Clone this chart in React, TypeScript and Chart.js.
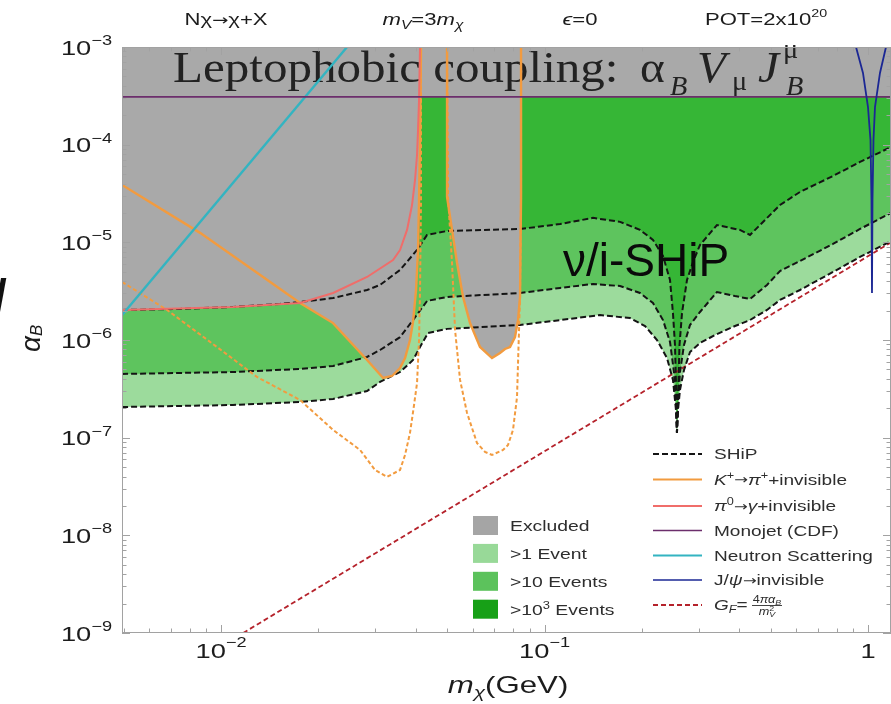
import { useEffect, useRef } from 'react';
import { Chart, registerables } from 'chart.js';

Chart.register(...registerables);

type Pt = [number, number]; // [m_chi (GeV), alpha_B]

// Axis ranges
const massMin = 0.00494;
const massMax = 1.178;
const alphaMin = 1e-9;
const alphaMax = 1e-3;

// Tick values and labels (base, exponent)
const xTickValues = [0.01, 0.1, 1];
const xTickLabels: [string, string][] = [['10', '−2'], ['10', '−1'], ['1', '']];
const yTickValues = [1e-9, 1e-8, 1e-7, 1e-6, 1e-5, 1e-4, 1e-3];
const yTickLabels: [string, string][] = [
  ['10', '−9'], ['10', '−8'], ['10', '−7'], ['10', '−6'], ['10', '−5'], ['10', '−4'], ['10', '−3'],
];

// SHiP sensitivity contours
const shipThousandEvents: Pt[] = [
  [0.004943, 2.03e-6], [0.007467, 2.08e-6], [0.01089, 2.18e-6], [0.01522, 2.34e-6], [0.01755, 2.45e-6],
  [0.0222, 2.69e-6], [0.02827, 3.25e-6], [0.03101, 3.66e-6], [0.03575, 5.21e-6], [0.04035, 8.35e-6],
  [0.04333, 1.19e-5], [0.04996, 1.306e-5], [0.084, 1.37e-5], [0.1117, 1.54e-5], [0.1412, 1.78e-5],
  [0.1712, 1.62e-5], [0.1973, 1.34e-5], [0.2164, 1.06e-5], [0.2324, 7.25e-6], [0.2443, 4.11e-6],
  [0.2495, 1.89e-6], [0.2531, 8.89e-7], [0.2558, 2.43e-7], [0.2567, 1.12e-7], [0.2586, 2.43e-7],
  [0.2614, 8.89e-7], [0.2661, 1.89e-6], [0.2757, 4.11e-6], [0.2877, 6.29e-6], [0.3024, 9.39e-6],
  [0.3413, 1.505e-5], [0.4019, 1.34e-5], [0.4317, 1.19e-5], [0.4873, 1.775e-5], [0.5346, 2.41e-5],
  [0.6163, 3.28e-5], [0.7795, 4.78e-5], [0.9447, 6.65e-5], [1.178, 9.47e-5],
];
const shipTenEvents: Pt[] = [
  [0.004943, 4.49e-7], [0.01089, 4.7e-7], [0.01755, 5.05e-7], [0.0222, 5.42e-7], [0.02827, 6.7e-7],
  [0.03101, 7.9e-7], [0.03575, 1.07e-6], [0.03922, 1.6e-6], [0.04333, 2.51e-6], [0.04996, 2.76e-6],
  [0.084, 3.03e-6], [0.1117, 3.41e-6], [0.1412, 3.75e-6], [0.1712, 3.57e-6], [0.1973, 3.03e-6],
  [0.2164, 2.39e-6], [0.2324, 1.6e-6], [0.2443, 9.54e-7], [0.2513, 4.7e-7], [0.2549, 2.16e-7],
  [0.2567, 1.12e-7], [0.2586, 2.16e-7], [0.2623, 4.7e-7], [0.2699, 8.89e-7], [0.2817, 1.425e-6],
  [0.3024, 1.935e-6], [0.3413, 3.1e-6], [0.388, 2.82e-6], [0.4317, 2.63e-6], [0.4873, 3.66e-6],
  [0.5346, 5.09e-6], [0.6163, 6.44e-6], [0.7795, 9.62e-6], [0.9447, 1.37e-5], [1.178, 2.0e-5],
];
const shipOneEvent: Pt[] = [
  [0.004943, 2.06e-7], [0.01089, 2.16e-7], [0.01755, 2.32e-7], [0.0222, 2.49e-7], [0.02827, 3.0e-7],
  [0.03101, 3.72e-7], [0.03575, 4.7e-7], [0.03922, 6.24e-7], [0.04122, 8.48e-7], [0.04364, 1.18e-6],
  [0.04996, 1.3e-6], [0.084, 1.425e-6], [0.1117, 1.6e-6], [0.1484, 1.8e-6], [0.1837, 1.68e-6],
  [0.2045, 1.39e-6], [0.2227, 1.0e-6], [0.2391, 6.54e-7], [0.2495, 3.9e-7], [0.2549, 1.92e-7],
  [0.2567, 1.12e-7], [0.2586, 1.92e-7], [0.2623, 3.08e-7], [0.2699, 4.93e-7], [0.2817, 7.54e-7],
  [0.3024, 9.32e-7], [0.3413, 1.15e-6], [0.388, 1.39e-6], [0.4317, 1.6e-6], [0.4873, 2.03e-6],
  [0.5346, 2.57e-6], [0.6163, 3.25e-6], [0.7795, 4.97e-6], [0.9447, 7.08e-6], [1.178, 1.03e-5],
];

// Existing bounds
const pionLimit: Pt[] = [
  [0.004943, 2.03e-6], [0.01089, 2.18e-6], [0.01755, 2.39e-6], [0.0222, 3.03e-6], [0.02827, 4.42e-6],
  [0.03401, 6.59e-6], [0.03575, 8.35e-6], [0.03758, 1.34e-5], [0.03894, 2.41e-5], [0.03978, 4.35e-5],
  [0.04035, 7.83e-5], [0.04064, 1.41e-4], [0.04093, 2.87e-4], [0.04122, 1.0e-3],
];
const kaonLimitLow: Pt[] = [
  [0.004943, 3.87e-5], [0.008612, 1.25e-5], [0.01755, 2.39e-6], [0.0222, 1.49e-6], [0.02827, 6.24e-7],
  [0.03168, 4.08e-7], [0.03377, 4.28e-7], [0.03575, 5.17e-7], [0.03705, 6.54e-7], [0.03838, 1.0e-6],
  [0.03922, 1.53e-6], [0.04007, 3.25e-6], [0.04064, 8.35e-6], [0.04093, 2.71e-5], [0.04122, 1.12e-4],
  [0.04151, 1.0e-3],
];
const kaonLimitHigh: Pt[] = [
  [0.04996, 1.0e-3], [0.04996, 2.91e-5], [0.05177, 1.34e-5], [0.05365, 6.14e-6], [0.05599, 2.76e-6],
  [0.05884, 1.49e-6], [0.06318, 8.48e-7], [0.0688, 6.54e-7], [0.07284, 7.36e-7], [0.07548, 8.09e-7],
  [0.07822, 8.48e-7], [0.08105, 1.07e-6], [0.08281, 1.6e-6], [0.084, 2.76e-6], [0.0846, 2.91e-5],
  [0.0846, 1.0e-3],
];
const kaonReachLow: Pt[] = [
  [0.004943, 3.93e-6], [0.006808, 2.03e-6], [0.01089, 6.39e-7], [0.01292, 4.18e-7], [0.01755, 2.43e-7],
  [0.0222, 1.2e-7], [0.0269, 7.48e-8], [0.02992, 4.67e-8], [0.03259, 3.96e-8], [0.03575, 4.67e-8],
  [0.03705, 6.65e-8], [0.03838, 1.12e-7], [0.0395, 2.16e-7], [0.04035, 3.63e-7], [0.04093, 1.0e-6],
  [0.04122, 3.25e-6], [0.04151, 2.71e-5], [0.04151, 1.0e-3],
];
const kaonReachHigh: Pt[] = [
  [0.04996, 1.0e-3], [0.05032, 2.91e-5], [0.05177, 6.14e-6], [0.05289, 1.27e-6], [0.05481, 3.9e-7],
  [0.0576, 1.79e-7], [0.06183, 8.82e-8], [0.06547, 7.14e-8], [0.0688, 6.65e-8], [0.07441, 7.48e-8],
  [0.07711, 8.42e-8], [0.0799, 1.2e-7], [0.08222, 2.61e-7], [0.08281, 5.82e-7], [0.084, 2.76e-6],
  [0.0846, 2.91e-5], [0.0846, 1.0e-3],
];
const neutronLimit: Pt[] = [[0.004943, 1.8e-6], [0.02452, 1.0e-3]];
const monojetLimit: Pt[] = [[0.004943, 3.08e-4], [1.178, 3.08e-4]];
const jpsiLimit: Pt[] = [
  [0.9182, 1.0e-3], [0.965, 5.42e-4], [1.0, 2.43e-4], [1.018, 1.12e-4], [1.0252, 2.71e-5],
  [1.0289, 3.03e-6], [1.0326, 2.71e-5], [1.0399, 1.12e-4], [1.0511, 2.43e-4], [1.0891, 5.42e-4],
  [1.1367, 1.0e-3],
];
const fermiLine: Pt[] = [[0.0117, 1.0e-9], [1.178, 1.0e-5]];

// Lower edge of the combined excluded region
const excludedEdge: Pt[] = [
  [0.004943, 1.8e-6], [0.005233, 2.03e-6], [0.01089, 2.18e-6], [0.01522, 2.32e-6], [0.01755, 2.39e-6],
  [0.0222, 1.49e-6], [0.02827, 6.24e-7], [0.03168, 4.08e-7], [0.03377, 4.28e-7], [0.03575, 5.17e-7],
  [0.03705, 6.54e-7], [0.03838, 1.0e-6], [0.03922, 1.53e-6], [0.04007, 3.25e-6], [0.04064, 8.35e-6],
  [0.04093, 2.71e-5], [0.04122, 1.12e-4], [0.04137, 3.08e-4], [0.04996, 3.08e-4], [0.04996, 2.91e-5],
  [0.05177, 1.34e-5], [0.05365, 6.14e-6], [0.05599, 2.76e-6], [0.05884, 1.49e-6], [0.06318, 8.48e-7],
  [0.0688, 6.54e-7], [0.07284, 7.36e-7], [0.07548, 8.09e-7], [0.07822, 8.48e-7], [0.08105, 1.07e-6],
  [0.08281, 1.6e-6], [0.084, 2.76e-6], [0.0846, 2.91e-5], [0.0846, 3.08e-4], [1.178, 3.08e-4],
];

const fillColors = { excluded: '#a9a9a9', one: '#9cdb9c', ten: '#5ec45e', thousand: '#36b636' };
const swatchColors = { excluded: '#a5a5a5', one: '#98d998', ten: '#5cc25c', thousand: '#17a017' };
const lineColors = {
  ship: '#141414', kaon: '#f29b3f', pion: '#f06d6a', monojet: '#6c2e6c',
  neutron: '#33b4c1', jpsi: '#1b2794', fermi: '#b5222b',
};

const sans = '"Liberation Sans", Arial, Helvetica, sans-serif';
const serif = '"Liberation Serif", "Times New Roman", serif';
const symbol = '"DejaVu Sans", sans-serif';

type Run = { t: string; s: number; it?: boolean; b?: boolean; fam?: string; dx?: number; dy?: number; adv?: boolean };

function runFont(r: Run) {
  return `${r.it ? 'italic ' : ''}${r.b ? 'bold ' : ''}${r.s}px ${r.fam ?? sans}`;
}

function drawRuns(ctx: CanvasRenderingContext2D, runs: Run[], x: number, y: number, align: string, sx: number, color: string) {
  ctx.save();
  ctx.translate(x, y);
  ctx.scale(sx, 1);
  ctx.fillStyle = color;
  ctx.textAlign = 'left';
  ctx.textBaseline = 'alphabetic';
  let total = 0;
  for (const r of runs) {
    ctx.font = runFont(r);
    if (r.adv !== false) total += ctx.measureText(r.t).width + (r.dx ?? 0);
  }
  let cx = align === 'center' ? -total / 2 : align === 'right' ? -total : 0;
  for (const r of runs) {
    ctx.font = runFont(r);
    const w = ctx.measureText(r.t).width;
    ctx.fillText(r.t, cx + (r.dx ?? 0), r.dy ?? 0);
    if (r.adv !== false) cx += w + (r.dx ?? 0);
  }
  ctx.restore();
}

const legendAreas = [
  { label: 'Excluded', color: swatchColors.excluded },
  { label: '>1 Event', color: swatchColors.one },
  { label: '>10 Events', color: swatchColors.ten },
  { label: '>10³ Events', color: swatchColors.thousand },
];

function drawFrame(chart: any) {
  const ctx: CanvasRenderingContext2D = chart.ctx;
  const { left, right, top, bottom } = chart.chartArea;
  const xs = chart.scales.x;
  const ys = chart.scales.y;
  ctx.save();
  ctx.strokeStyle = '#a2a2a2';
  ctx.lineWidth = 1;
  ctx.strokeRect(left + 0.5, top + 0.5, right - left - 1, bottom - top - 1);
  ctx.beginPath();
  for (let e = -9; e <= -3; e++) {
    for (let k = 1; k <= 9; k++) {
      const v = k * Math.pow(10, e);
      if (v < alphaMin * 0.999 || v > alphaMax * 1.001) continue;
      const py = Math.round(ys.getPixelForValue(v)) + 0.5;
      const len = k === 1 ? 8 : 4.5;
      ctx.moveTo(left, py); ctx.lineTo(left + len, py);
      ctx.moveTo(right, py); ctx.lineTo(right - len, py);
    }
  }
  for (let e = -3; e <= 0; e++) {
    for (let k = 1; k <= 9; k++) {
      const v = k * Math.pow(10, e);
      if (v < massMin || v > massMax) continue;
      const px = Math.round(xs.getPixelForValue(v)) + 0.5;
      const len = k === 1 ? 8 : 4.5;
      ctx.moveTo(px, bottom); ctx.lineTo(px, bottom - len);
      ctx.moveTo(px, top); ctx.lineTo(px, top + len);
    }
  }
  ctx.stroke();
  ctx.restore();
}

function drawTickLabels(chart: any) {
  const ctx: CanvasRenderingContext2D = chart.ctx;
  const xs = chart.scales.x;
  const ys = chart.scales.y;
  const ink = '#1c1c1c';
  yTickValues.forEach((v, i) => {
    const py = ys.getPixelForValue(v);
    const [base, exp] = yTickLabels[i];
    drawRuns(ctx, [{ t: base, s: 21 }, { t: exp, s: 14, dy: -9.5 }], 112, py + 7.5, 'right', 1.3, ink);
  });
  xTickValues.forEach((v, i) => {
    const px = xs.getPixelForValue(v);
    const [base, exp] = xTickLabels[i];
    const runs: Run[] = [{ t: base, s: 21 }];
    if (exp) runs.push({ t: exp, s: 14, dy: -11 });
    drawRuns(ctx, runs, px, 658, 'center', 1.3, ink);
  });
  // axis titles
  drawRuns(ctx, [{ t: 'm', s: 24, it: true }, { t: 'χ', s: 16, it: true, dy: 5 }, { t: '(GeV)', s: 24 }], 508, 693, 'center', 1.3, ink);
  ctx.save();
  ctx.translate(40, 352);
  ctx.rotate(-Math.PI / 2);
  drawRuns(ctx, [{ t: 'α', s: 28, it: true }, { t: 'B', s: 17, it: true, dy: 2 }], 0, 0, 'left', 1, ink);
  ctx.restore();
}

function drawLegends(chart: any) {
  const ctx: CanvasRenderingContext2D = chart.ctx;
  const ink = '#2e2e2e';
  legendAreas.forEach((item, i) => {
    const cy = 525.5 + i * 27.9;
    ctx.fillStyle = item.color;
    ctx.fillRect(473, cy - 9.5, 25, 19);
    const runs: Run[] = item.label === '>10³ Events'
      ? [{ t: '>10', s: 15 }, { t: '3', s: 10, dy: -6 }, { t: ' Events', s: 15 }]
      : [{ t: item.label, s: 15 }];
    drawRuns(ctx, runs, 510, cy + 5.5, 'left', 1.29, ink);
  });

  const arrow: Run = { t: '→', s: 13, fam: symbol, dy: -0.5 };
  const rows: { color: string; dash: number[]; width: number; runs: Run[] }[] = [
    { color: lineColors.ship, dash: [6, 3], width: 2, runs: [{ t: 'SHiP', s: 15 }] },
    { color: lineColors.kaon, dash: [], width: 2.2, runs: [
      { t: 'K', s: 15, it: true }, { t: '+', s: 10, dy: -6 }, arrow, { t: 'π', s: 15, it: true },
      { t: '+', s: 10, dy: -6 }, { t: '+invisible', s: 15 }] },
    { color: lineColors.pion, dash: [], width: 2, runs: [
      { t: 'π', s: 15, it: true }, { t: '0', s: 10, dy: -6 }, arrow, { t: 'γ', s: 15, it: true },
      { t: '+invisible', s: 15 }] },
    { color: lineColors.monojet, dash: [], width: 1.6, runs: [{ t: 'Monojet (CDF)', s: 15 }] },
    { color: lineColors.neutron, dash: [], width: 2.2, runs: [{ t: 'Neutron Scattering', s: 15 }] },
    { color: lineColors.jpsi, dash: [], width: 1.6, runs: [{ t: 'J/', s: 15 }, { t: 'ψ', s: 15, it: true }, arrow, { t: 'invisible', s: 15 }] },
    { color: lineColors.fermi, dash: [5, 3], width: 2, runs: [{ t: 'G', s: 15, it: true }, { t: 'F', s: 10, it: true, dy: 3 }, { t: '=', s: 15 }] },
  ];
  const rowY = [454, 479.5, 506, 530.5, 555.5, 580, 605];
  rows.forEach((row, i) => {
    const cy = rowY[i];
    ctx.save();
    ctx.strokeStyle = row.color;
    ctx.lineWidth = row.width;
    ctx.setLineDash(row.dash);
    ctx.beginPath();
    ctx.moveTo(653, cy);
    ctx.lineTo(702, cy);
    ctx.stroke();
    ctx.restore();
    drawRuns(ctx, row.runs, 714, cy + 5, 'left', 1.27, ink);
  });
  // fraction 4πα_B / m_V^2
  const fx = 752;
  const fy = rowY[6];
  drawRuns(ctx, [{ t: '4', s: 10 }, { t: 'πα', s: 10, it: true }, { t: 'B', s: 7, it: true, dy: 2 }], fx + 15, fy - 2, 'center', 1.27, ink);
  ctx.save();
  ctx.strokeStyle = ink;
  ctx.lineWidth = 0.9;
  ctx.beginPath();
  ctx.moveTo(fx, fy + 0.5);
  ctx.lineTo(fx + 30, fy + 0.5);
  ctx.stroke();
  ctx.restore();
  drawRuns(ctx, [{ t: 'm', s: 10, it: true }, { t: '2', s: 7, dy: -4, adv: false }, { t: 'V', s: 7, it: true, dy: 2 }], fx + 15, fy + 10, 'center', 1.27, ink);
}

function drawTexts(chart: any) {
  const ctx: CanvasRenderingContext2D = chart.ctx;
  const ink = '#1c1c1c';
  const arrow: Run = { t: '→', s: 15, fam: symbol, dy: -0.5 };
  drawRuns(ctx, [{ t: 'N', s: 17 }, { t: 'χ', s: 17 }, arrow, { t: 'χ', s: 17 }, { t: '+X', s: 17 }], 226, 25, 'center', 1.3, ink);
  drawRuns(ctx, [{ t: 'm', s: 17, it: true }, { t: 'V', s: 12, it: true, dy: 4 }, { t: '=3', s: 17 }, { t: 'm', s: 17, it: true }, { t: 'χ', s: 12, it: true, dy: 4 }], 423, 25, 'center', 1.3, ink);
  drawRuns(ctx, [{ t: 'ϵ', s: 17, it: true }, { t: '=0', s: 17 }], 580, 25, 'center', 1.3, ink);
  drawRuns(ctx, [{ t: 'POT=2x10', s: 17 }, { t: '20', s: 11, dy: -8 }], 766, 25, 'center', 1.3, ink);
  // experiment label
  drawRuns(ctx, [{ t: 'ν/i-SHiP', s: 46 }], 563, 276, 'left', 1, '#0a0a0a');
  // cut-off glyph at the left edge
  drawRuns(ctx, [{ t: '/', s: 46, b: true }], -6, 312, 'left', 1, '#111');
}

function drawCouplingTitle(ctx: CanvasRenderingContext2D) {
  const ink = '#222222';
  drawRuns(ctx, [{ t: 'Leptophobic coupling:', s: 45, fam: serif }], 173, 82, 'left', 1.09, ink);
  drawRuns(ctx, [{ t: 'α', s: 45, fam: serif }], 640, 82, 'left', 1.05, ink);
  drawRuns(ctx, [{ t: 'B', s: 27, it: true, fam: serif }], 670, 95, 'left', 1.05, ink);
  drawRuns(ctx, [{ t: 'V', s: 45, it: true, fam: serif }], 697, 82, 'left', 1.05, ink);
  drawRuns(ctx, [{ t: 'μ', s: 27, fam: serif }], 732, 90, 'left', 1.05, ink);
  drawRuns(ctx, [{ t: 'J', s: 45, it: true, fam: serif }], 758, 82, 'left', 1.05, ink);
  drawRuns(ctx, [{ t: 'μ', s: 27, fam: serif }], 783, 58, 'left', 1.05, ink);
  drawRuns(ctx, [{ t: 'B', s: 27, it: true, fam: serif }], 786, 95, 'left', 1.05, ink);
}

const overlayPlugin = {
  id: 'overlay',
  afterDatasetDraw(chart: any, args: any) {
    if (chart.data.datasets[args.index].label === 'Excluded') drawCouplingTitle(chart.ctx);
  },
  afterDatasetsDraw(chart: any) {
    drawFrame(chart);
    drawTickLabels(chart);
    drawLegends(chart);
    drawTexts(chart);
  },
};

const toXY = (pts: Pt[]) => pts.map(([x, y]) => ({ x, y }));

function area(label: string, pts: Pt[], color: string, order: number) {
  return {
    label, data: toXY(pts), order, fill: 'end', backgroundColor: color,
    borderColor: 'rgba(0,0,0,0)', borderWidth: 1, pointRadius: 0, pointHoverRadius: 0, tension: 0,
  };
}

function curve(label: string, pts: Pt[], color: string, width: number, dash: number[], order: number) {
  return {
    label, data: toXY(pts), order, fill: false, borderColor: color, borderWidth: width,
    borderDash: dash, pointRadius: 0, pointHoverRadius: 0, tension: 0,
  };
}

export default function App() {
  const canvasRef = useRef<HTMLCanvasElement>(null);

  useEffect(() => {
    const canvas = canvasRef.current;
    if (!canvas) return;
    const chart = new Chart(canvas, {
      type: 'line',
      data: {
        datasets: [
          area('>1 Event', shipOneEvent, fillColors.one, 100),
          area('>10 Events', shipTenEvents, fillColors.ten, 99),
          area('>10³ Events', shipThousandEvents, fillColors.thousand, 98),
          area('Excluded', excludedEdge, fillColors.excluded, 97),
          curve('G_F', fermiLine, lineColors.fermi, 1.8, [5, 3], 12),
          curve('SHiP >1', shipOneEvent, lineColors.ship, 2, [6, 3], 11),
          curve('SHiP >10', shipTenEvents, lineColors.ship, 2, [6, 3], 11),
          curve('SHiP', shipThousandEvents, lineColors.ship, 2, [6, 3], 11),
          curve('K+ reach low', kaonReachLow, lineColors.kaon, 2, [4, 2.5], 10),
          curve('K+ reach high', kaonReachHigh, lineColors.kaon, 2, [4, 2.5], 10),
          curve('K+ limit low', kaonLimitLow, lineColors.kaon, 2.4, [], 9),
          curve('K+ limit high', kaonLimitHigh, lineColors.kaon, 2.4, [], 9),
          curve('π0', pionLimit, lineColors.pion, 2, [], 8),
          curve('Neutron Scattering', neutronLimit, lineColors.neutron, 2.4, [], 7),
          curve('Monojet (CDF)', monojetLimit, lineColors.monojet, 1.8, [], 6),
          curve('J/ψ', jpsiLimit, lineColors.jpsi, 1.8, [], 5),
        ] as any,
      },
      options: {
        animation: false,
        responsive: false,
        maintainAspectRatio: false,
        devicePixelRatio: 1,
        layout: { padding: { top: 47, right: 0, bottom: 0, left: 0 } },
        plugins: { legend: { display: false }, tooltip: { enabled: false } },
        events: [],
        scales: {
          x: {
            type: 'logarithmic', min: massMin, max: massMax,
            afterBuildTicks: (s: any) => { s.ticks = xTickValues.map((value) => ({ value })); },
            afterFit: (s: any) => { s.height = 71; },
            ticks: { display: false },
            grid: { display: false, drawTicks: false },
            border: { display: false },
          },
          y: {
            type: 'logarithmic', min: alphaMin, max: alphaMax,
            afterBuildTicks: (s: any) => { s.ticks = yTickValues.map((value) => ({ value })); },
            afterFit: (s: any) => { s.width = 122; },
            ticks: { display: false },
            grid: { display: false, drawTicks: false },
            border: { display: false },
          },
        },
      } as any,
      plugins: [overlayPlugin as any],
    });
    return () => chart.destroy();
  }, []);

  return (
    <div style={{ position: 'absolute', left: 0, top: 0, width: 891, height: 704, background: '#ffffff', overflow: 'hidden' }}>
      <canvas ref={canvasRef} width={891} height={704} style={{ display: 'block', width: '891px', height: '704px' }} />
    </div>
  );
}
